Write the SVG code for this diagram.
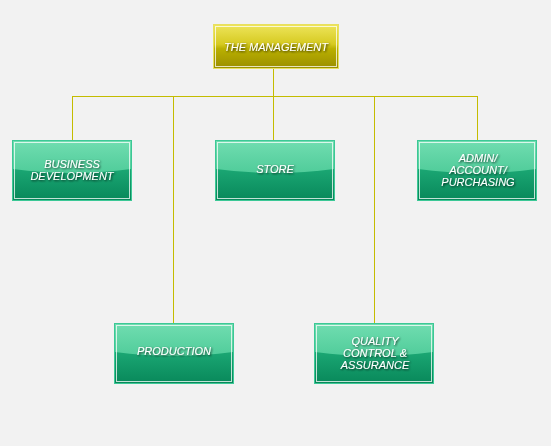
<svg xmlns="http://www.w3.org/2000/svg" width="551" height="446" viewBox="0 0 551 446">
<defs>
<linearGradient id="gy" x1="0" y1="0" x2="0" y2="1">
<stop offset="0" stop-color="#eee55c"/>
<stop offset="0.45" stop-color="#d6ca20"/>
<stop offset="0.55" stop-color="#bab000"/>
<stop offset="1" stop-color="#9a8e00"/>
</linearGradient>
<linearGradient id="gg" x1="0" y1="0" x2="0" y2="1">
<stop offset="0" stop-color="#36bc86"/>
<stop offset="0.5" stop-color="#1aa572"/>
<stop offset="1" stop-color="#08885a"/>
</linearGradient>
<linearGradient id="gl" x1="0" y1="0" x2="0" y2="1">
<stop offset="0" stop-color="#70ddb0"/>
<stop offset="1" stop-color="#50cc9a"/>
</linearGradient>
<path id="gloss" d="M0,0 H118 V28 Q59,36 0,28 Z" fill="url(#gl)"/>
<filter id="sh" x="-10%" y="-30%" width="120%" height="160%">
<feDropShadow dx="1" dy="1" stdDeviation="0.8" flood-color="#000" flood-opacity="0.75"/>
</filter>
</defs>
<style>
.bg{fill:#f2f2f2}
.conn line{stroke:#c4bc00;stroke-width:1}
.g rect.o{fill:url(#gg);stroke:#3cc896;stroke-width:1}
.y rect.o{fill:url(#gy);stroke:#e8e060;stroke-width:1}
rect.i{fill:none;stroke:#ffffff;stroke-opacity:0.75;stroke-width:1}
text{font-family:"Liberation Sans",Arial,sans-serif;font-size:11px;font-style:italic;fill:#ffffff;text-anchor:middle;filter:url(#sh)}
</style>
<rect class="bg" x="0" y="0" width="551" height="446"/>
<g id="connectors" class="conn">
<line x1="273.5" y1="68" x2="273.5" y2="140"/>
<line x1="72" y1="96.5" x2="478" y2="96.5"/>
<line x1="72.5" y1="96" x2="72.5" y2="140"/>
<line x1="477.5" y1="96" x2="477.5" y2="140"/>
<line x1="173.5" y1="96" x2="173.5" y2="323"/>
<line x1="374.5" y1="96" x2="374.5" y2="323"/>
</g>
<g id="management" class="y">
<rect class="o" x="213.5" y="24.5" width="125" height="44"/>
<rect class="i" x="215.5" y="26.5" width="121" height="40"/>
<text x="276" y="51">THE MANAGEMENT</text>
</g>
<g id="business" class="g">
<rect class="o" x="12.5" y="140.5" width="119" height="60"/>
<use href="#gloss" x="13" y="141"/>
<rect class="i" x="14.5" y="142.5" width="115" height="56"/>
<text x="72" y="168">BUSINESS</text>
<text x="72" y="180">DEVELOPMENT</text>
</g>
<g id="store" class="g">
<rect class="o" x="215.5" y="140.5" width="119" height="60"/>
<use href="#gloss" x="216" y="141"/>
<rect class="i" x="217.5" y="142.5" width="115" height="56"/>
<text x="275" y="173">STORE</text>
</g>
<g id="admin" class="g">
<rect class="o" x="417.5" y="140.5" width="119" height="60"/>
<use href="#gloss" x="418" y="141"/>
<rect class="i" x="419.5" y="142.5" width="115" height="56"/>
<text x="478" y="162">ADMIN/</text>
<text x="478" y="174">ACCOUNT/</text>
<text x="478" y="186">PURCHASING</text>
</g>
<g id="production" class="g">
<rect class="o" x="114.5" y="323.5" width="119" height="60"/>
<use href="#gloss" x="115" y="324"/>
<rect class="i" x="116.5" y="325.5" width="115" height="56"/>
<text x="174" y="355">PRODUCTION</text>
</g>
<g id="quality" class="g">
<rect class="o" x="314.5" y="323.5" width="119" height="60"/>
<use href="#gloss" x="315" y="324"/>
<rect class="i" x="316.5" y="325.5" width="115" height="56"/>
<text x="375" y="345">QUALITY</text>
<text x="375" y="357">CONTROL &amp;</text>
<text x="375" y="369">ASSURANCE</text>
</g>
</svg>
